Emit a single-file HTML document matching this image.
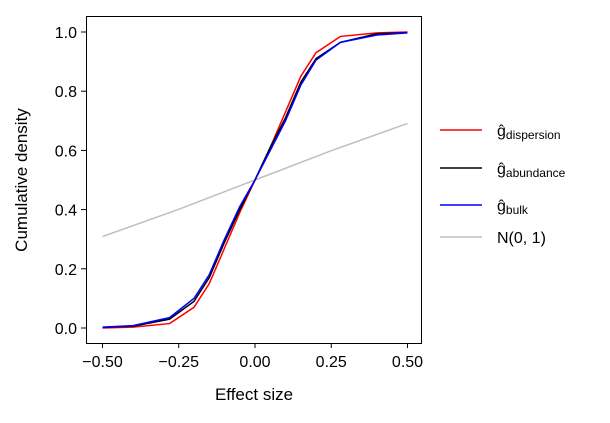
<!DOCTYPE html>
<html><head><meta charset="utf-8"><style>
body{margin:0;background:#fff;}
text{font-family:"Liberation Sans","DejaVu Sans",sans-serif;fill:#000;}
</style></head><body>
<svg id="c" width="610" height="418" xmlns="http://www.w3.org/2000/svg"></svg>
<script>
const xs=[-0.5,-0.4,-0.28,-0.2,-0.15,-0.1,-0.05,0,0.05,0.1,0.15,0.2,0.28,0.4,0.5];
const redVals=[0,0.003,0.015,0.07,0.15,0.27,0.39,0.5,0.61,0.73,0.85,0.93,0.985,0.997,1];
const blackVals=[0.002,0.006,0.03,0.09,0.17,0.29,0.4,0.5,0.61,0.71,0.83,0.91,0.965,0.994,0.998];
const blueVals=[0.003,0.008,0.035,0.1,0.18,0.3,0.41,0.5,0.6,0.7,0.82,0.905,0.965,0.99,0.997];
const normXs=[-0.5,-0.25,0,0.25,0.5];
const normVals=[0.309,0.401,0.5,0.599,0.691];
const xTicks=[-0.5,-0.25,0,0.25,0.5];
const xTickLabels=["−0.50","−0.25","0.00","0.25","0.50"];
const yTicks=[0,0.2,0.4,0.6,0.8,1.0];
const yTickLabels=["0.0","0.2","0.4","0.6","0.8","1.0"];
const svg=document.getElementById('c');const NS="http://www.w3.org/2000/svg";
const X=v=>255+v*305, Y=v=>328-v*296;
function mk(t,a,p){const e=document.createElementNS(NS,t);for(const k in a)e.setAttribute(k,a[k]);(p||svg).appendChild(e);return e;}
function line(xa,ya,col,name){const e=mk('polyline',{points:xa.map((x,i)=>X(x)+','+Y(ya[i])).join(' '),fill:'none',stroke:col,'stroke-width':1.5});

}
line(normXs,normVals,'#bfbfbf','series-normal');
line(xs,redVals,'#ff0000','series-dispersion');
line(xs,blackVals,'#000000','series-abundance');
line(xs,blueVals,'#0000ff','series-bulk');
const fr=mk('rect',{x:86.5,y:16.5,width:335,height:327,fill:'none',stroke:'#000','stroke-width':1});


xTicks.forEach((v,i)=>{mk('line',{x1:X(v),x2:X(v),y1:343,y2:348,stroke:'#000'});
const t=mk('text',{x:X(v),y:367,'text-anchor':'middle','font-size':16});t.textContent=xTickLabels[i];

});
yTicks.forEach((v,i)=>{mk('line',{x1:81,x2:86,y1:Y(v),y2:Y(v),stroke:'#000'});
const t=mk('text',{x:77,y:Y(v)+6,'text-anchor':'end','font-size':16});t.textContent=yTickLabels[i];

});
</script>
<svg width="610" height="418" style="position:absolute;left:0;top:0">
<text x="254" y="400" text-anchor="middle" font-size="17">Effect size</text>
<text transform="translate(27,180) rotate(-90)" text-anchor="middle" font-size="17">Cumulative density</text>
<g>
<line x1="440" x2="482" y1="130" y2="130" stroke="#f00" stroke-width="1.5"/>
<text x="497" y="136" font-size="16">ĝ<tspan font-size="12" dy="3">dispersion</tspan></text>
<line x1="440" x2="482" y1="168" y2="168" stroke="#000" stroke-width="1.5"/>
<text x="497" y="174" font-size="16">ĝ<tspan font-size="12" dy="3">abundance</tspan></text>
<line x1="440" x2="482" y1="205" y2="205" stroke="#00f" stroke-width="1.5"/>
<text x="497" y="211" font-size="16">ĝ<tspan font-size="12" dy="3">bulk</tspan></text>
<line x1="440" x2="482" y1="237" y2="237" stroke="#bfbfbf" stroke-width="1.5"/>
<text x="497" y="243" font-size="16">N(0, 1)</text>
</g></svg>
</body></html>
